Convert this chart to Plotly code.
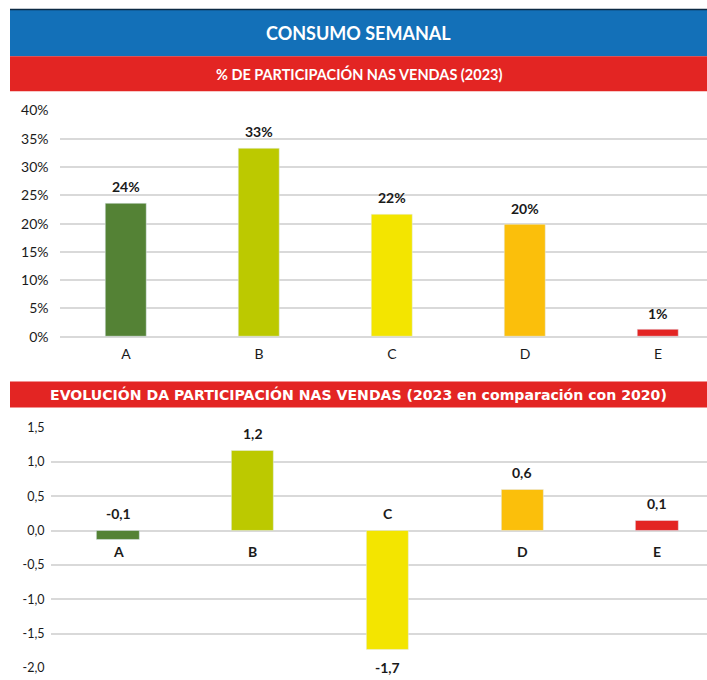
import plotly.graph_objects as go

# Weekly consumption dashboard: share of sales (2023) and change vs 2020
categories = ["A", "B", "C", "D", "E"]
share_2023 = [0.236, 0.333, 0.217, 0.198, 0.012]
change_vs_2020 = [-0.137, 1.16, -1.74, 0.595, 0.14]
bar_colors = ["#548235", "#BCC900", "#F3E500", "#FBBF0B", "#E32523"]

share_ticks = [0, 0.05, 0.10, 0.15, 0.20, 0.25, 0.30, 0.35, 0.40]
change_ticks = [1.5, 1.0, 0.5, 0.0, -0.5, -1.0, -1.5, -2.0]

main_title = "CONSUMO SEMANAL"
top_title = "% DE PARTICIPACIÓN NAS VENDAS (2023)"
bottom_title = "EVOLUCIÓN DA PARTICIPACIÓN NAS VENDAS (2023 en comparación con 2020)"

FONT = "Lato"
WIDE_FONT = "DejaVu Sans"
BLUE = "#1370B8"
RED = "#E32523"
GRID = "#D9D9D9"
TEXT = "#1a1a1a"

W, H = 707, 680
# visible page area that the paper coordinates span
TOP_OFF, PAGE_H = 7.6, 664.4


def py(px):
    """Pixel row on the page -> paper y."""
    return min(1.0, max(0.0, 1 - (px - TOP_OFF) / PAGE_H))


def px_x(px):
    """Pixel column on the page -> paper x."""
    return px / W


def comma(v, nd=1):
    return f"{v:.{nd}f}".replace(".", ",")


fig = go.Figure()

fig.add_trace(go.Bar(
    x=categories, y=share_2023, marker_color=bar_colors, width=0.315,
    xaxis="x", yaxis="y", showlegend=False, hoverinfo="x+y",
))
fig.add_trace(go.Bar(
    x=categories, y=change_vs_2020, marker_color=bar_colors, width=0.315,
    xaxis="x2", yaxis="y2", showlegend=False, hoverinfo="x+y",
))

annotations = []
label_font = dict(family=FONT, size=14, color=TEXT)

# value labels on the share chart
for c, v in zip(categories, share_2023):
    annotations.append(dict(
        x=c, y=v, xref="x", yref="y", text=f"<b>{v:.0%}</b>",
        showarrow=False, yanchor="bottom", yshift=6, font=label_font,
    ))

# value and category labels on the change chart
for c, v in zip(categories, change_vs_2020):
    deep_negative = v < -0.5
    if deep_negative:
        annotations.append(dict(
            x=c, y=v, xref="x2", yref="y2", text=f"<b>{comma(v)}</b>",
            showarrow=False, yanchor="top", yshift=-7, font=label_font,
        ))
        annotations.append(dict(
            x=c, y=0, xref="x2", yref="y2", text=f"<b>{c}</b>",
            showarrow=False, yanchor="bottom", yshift=7, font=label_font,
        ))
    else:
        annotations.append(dict(
            x=c, y=max(v, 0), xref="x2", yref="y2", text=f"<b>{comma(v)}</b>",
            showarrow=False, yanchor="bottom", yshift=7, font=label_font,
        ))
        annotations.append(dict(
            x=c, y=0, xref="x2", yref="y2", text=f"<b>{c}</b>",
            showarrow=False, yanchor="middle", yshift=-21, font=label_font,
        ))

# banner titles
cx = (px_x(10) + 1) / 2
annotations += [
    dict(x=cx, y=py(32), xref="paper", yref="paper",
         text=f"<b>{main_title}</b>", showarrow=False,
         font=dict(family=FONT, size=18, color="white"),
         xanchor="center", yanchor="middle"),
    dict(x=cx, y=py(73), xref="paper", yref="paper",
         text=f"<b>{top_title}</b>", showarrow=False,
         font=dict(family=FONT, size=14.5, color="white"),
         xanchor="center", yanchor="middle"),
    dict(x=cx, y=py(394), xref="paper", yref="paper",
         text=f"<b>{bottom_title}</b>", showarrow=False,
         font=dict(family=WIDE_FONT, size=14.1, color="white"),
         xanchor="center", yanchor="middle"),
]

shapes = [
    dict(type="rect", xref="paper", yref="paper", x0=px_x(10), x1=1,
         y0=py(55), y1=py(8), fillcolor=BLUE, line_width=0, layer="below"),
    dict(type="line", xref="paper", yref="paper", x0=px_x(10), x1=1,
         y0=py(8), y1=py(8), line=dict(color="#0D2A44", width=1.5)),
    dict(type="rect", xref="paper", yref="paper", x0=px_x(10), x1=1,
         y0=py(90), y1=py(55), fillcolor=RED, line_width=0, layer="below"),
    dict(type="rect", xref="paper", yref="paper", x0=px_x(10), x1=1,
         y0=py(407), y1=py(381), fillcolor=RED, line_width=0, layer="below"),
]

top_x0, top_step = 59.5, 133.0
bot_x0, bot_step = 50.6, 134.8

fig.update_layout(
    width=W, height=H,
    margin=dict(l=0, r=0, t=0, b=0),
    paper_bgcolor="white", plot_bgcolor="white",
    font=dict(family=FONT, size=13, color=TEXT),
    bargap=0.0,
    showlegend=False,
    annotations=annotations,
    shapes=shapes,
    xaxis=dict(
        domain=[px_x(top_x0), 1],
        range=[-0.5, (W - top_x0) / top_step - 0.5],
        showgrid=False, zeroline=False, showline=False,
        tickfont=dict(family=FONT, size=14, color=TEXT),
        ticks="", ticklabelstandoff=7, fixedrange=True,
    ),
    yaxis=dict(
        domain=[py(336), py(109.3)],
        range=[0, 0.40],
        tickvals=share_ticks,
        ticktext=[f"{t:.0%}" for t in share_ticks],
        showgrid=True, gridcolor=GRID, gridwidth=1.5,
        zeroline=True, zerolinecolor=GRID, zerolinewidth=1.5,
        showline=False, ticks="", ticklabelstandoff=10,
        tickfont=dict(family=FONT, size=14, color=TEXT),
        fixedrange=True,
    ),
    xaxis2=dict(
        domain=[px_x(bot_x0), 1],
        range=[-0.5, (W - bot_x0) / bot_step - 0.5],
        showgrid=False, zeroline=False, showline=False,
        showticklabels=False, ticks="", fixedrange=True,
    ),
    yaxis2=dict(
        domain=[py(668), py(427.2)],
        range=[-2.0, 1.5],
        tickvals=change_ticks,
        ticktext=[comma(t) for t in change_ticks],
        showgrid=True, gridcolor=GRID, gridwidth=1.5,
        zeroline=True, zerolinecolor=GRID, zerolinewidth=1.5,
        showline=False, ticks="", ticklabelstandoff=14,
        tickfont=dict(family=FONT, size=12.5, color=TEXT),
        fixedrange=True,
    ),
)

fig.write_html("out.html")
